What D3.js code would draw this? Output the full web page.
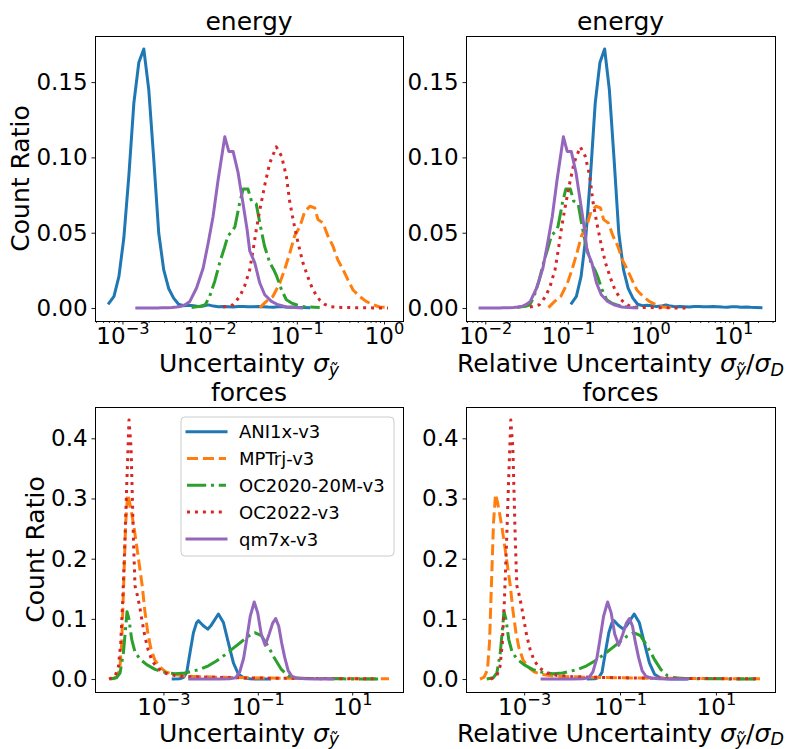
<!DOCTYPE html>
<html>
<head>
<meta charset="utf-8">
<script src="https://cdn.jsdelivr.net/npm/d3@7"></script>
<style>
  body { margin: 0; background: #fff; }
  svg text { font-family: "DejaVu Sans", sans-serif; fill: #000; }
</style>
</head>
<body>
<svg id="fig" width="791" height="749"></svg>
<script>
// ---- datasets and styling -------------------------------------------------
const datasets = ["ANI1x-v3", "MPTrj-v3", "OC2020-20M-v3", "OC2022-v3", "qm7x-v3"];
const colors = ["#1f77b4", "#ff7f0e", "#2ca02c", "#d62728", "#9467bd"];
const dashes = [null, "11.1,4.8", "19.2,4.8,3,4.8", "3,4.95", null];

// Histogram curves: [log10(sigma), count ratio]
// energy
const energyANI1x = [[-3.154,0.0033],[-3.097,0.0077],[-3.040,0.021],[-2.983,0.047],[-2.926,0.088],[-2.869,0.136],[-2.812,0.163],[-2.755,0.172],[-2.698,0.145],[-2.641,0.099],[-2.584,0.050],[-2.527,0.0255],[-2.470,0.013],[-2.413,0.0066],[-2.356,0.0025],[-2.299,0.0016],[-2.242,0.0019],[-2.185,0.0015],[-2.128,0.0011],[-2.071,0.0013],[-2.014,0.0021],[-1.957,0.0013],[-1.900,0.0009],[-1.843,0.0011],[-1.786,0.0009],[-1.729,0.0007],[-1.672,0.0011],[-1.615,0.0010],[-1.558,0.0008],[-1.501,0.0009],[-1.444,0.0011],[-1.387,0.0009],[-1.330,0.0007],[-1.273,0.0006],[-1.216,0.0009],[-1.159,0.0008],[-1.102,0.0006],[-1.045,0.0007],[-0.988,0.0005],[-0.931,0.0004],[-0.863,0.0003]];
const energyMPTrj = [[-1.425,0.0003],[-1.35,0.0044],[-1.275,0.0077],[-1.195,0.0166],[-1.14,0.0255],[-1.08,0.0366],[-1.025,0.048],[-0.965,0.054],[-0.91,0.064],[-0.85,0.0676],[-0.795,0.0665],[-0.757,0.0587],[-0.70,0.0565],[-0.645,0.048],[-0.585,0.041],[-0.53,0.032],[-0.47,0.0255],[-0.415,0.0188],[-0.355,0.012],[-0.28,0.0077],[-0.205,0.0044],[-0.125,0.0022],[-0.05,0.0007],[0.057,0.0003]];
const energyOC2020 = [[-2.207,0.0003],[-2.15,0.0008],[-2.10,0.0012],[-2.05,0.0022],[-2.00,0.0077],[-1.94,0.018],[-1.885,0.030],[-1.83,0.040],[-1.79,0.048],[-1.74,0.051],[-1.71,0.054],[-1.655,0.070],[-1.615,0.079],[-1.56,0.079],[-1.52,0.071],[-1.465,0.069],[-1.425,0.0565],[-1.37,0.041],[-1.31,0.030],[-1.265,0.0255],[-1.23,0.021],[-1.175,0.012],[-1.12,0.0055],[-1.06,0.0033],[-1.005,0.0022],[-0.93,0.001],[-0.87,0.0007],[-0.80,0.0005],[-0.738,0.0004]];
const energyOC2022 = [[-1.845,0.0007],[-1.79,0.0012],[-1.73,0.0022],[-1.655,0.0077],[-1.60,0.0144],[-1.54,0.0255],[-1.50,0.039],[-1.465,0.052],[-1.425,0.065],[-1.37,0.081],[-1.31,0.0964],[-1.235,0.107],[-1.175,0.1008],[-1.12,0.0875],[-1.08,0.070],[-1.035,0.0565],[-0.985,0.043],[-0.93,0.030],[-0.87,0.020],[-0.815,0.012],[-0.74,0.0055],[-0.68,0.0025],[-0.625,0.001],[-0.55,0.0006],[-0.49,0.0004],[-0.43,0.0003],[-0.37,0.0003],[-0.31,0.0002],[-0.25,0.0002],[-0.19,0.0002],[-0.13,0.0001],[-0.07,0.0001],[-0.01,0.0001],[0.045,0.0001]];
const energyQm7x = [[-2.835,0],[-2.78,0],[-2.72,0.0001],[-2.66,0],[-2.60,0.0001],[-2.55,0.0002],[-2.49,0.0002],[-2.43,0.0004],[-2.38,0.0007],[-2.32,0.0012],[-2.28,0.0022],[-2.227,0.0044],[-2.15,0.0133],[-2.074,0.0266],[-2.017,0.043],[-1.96,0.061],[-1.903,0.085],[-1.826,0.1137],[-1.78,0.104],[-1.731,0.104],[-1.674,0.090],[-1.616,0.069],[-1.57,0.052],[-1.54,0.038],[-1.482,0.030],[-1.425,0.0166],[-1.368,0.0088],[-1.291,0.0044],[-1.215,0.0022],[-1.119,0.0007],[-1.03,0.0003],[-0.945,0.0001]];

// forces
const forcesANI1x = [[-2.792,0],[-2.655,0.0005],[-2.570,0.003],[-2.506,0.011],[-2.436,0.044],[-2.364,0.077],[-2.30,0.093],[-2.258,0.097],[-2.16,0.089],[-2.061,0.083],[-2.00,0.088],[-1.941,0.095],[-1.835,0.108],[-1.729,0.094],[-1.623,0.060],[-1.517,0.027],[-1.411,0.008],[-1.297,0.002],[-1.169,0.0005],[-1.064,0.0002],[-0.95,0.0001],[-0.75,0]];
const forcesMPTrj = [[-4.08,0],[-3.996,0.003],[-3.926,0.015],[-3.883,0.06],[-3.841,0.16],[-3.799,0.26],[-3.757,0.307],[-3.714,0.293],[-3.672,0.275],[-3.619,0.250],[-3.555,0.215],[-3.502,0.185],[-3.449,0.155],[-3.396,0.115],[-3.333,0.078],[-3.269,0.052],[-3.184,0.032],[-3.078,0.020],[-2.951,0.012],[-2.803,0.008],[-2.549,0.005],[-2.231,0.004],[-1.807,0.003],[-1.172,0.002],[-0.536,0.0015],[0.099,0.001],[0.735,0.0008],[1.370,0.0005],[1.78,0.0003]];
const forcesOC2020 = [[-4.131,0],[-3.996,0.002],[-3.919,0.010],[-3.847,0.044],[-3.771,0.112],[-3.729,0.0995],[-3.672,0.066],[-3.602,0.045],[-3.496,0.033],[-3.354,0.024],[-3.178,0.016],[-2.966,0.011],[-2.754,0.009],[-2.549,0.010],[-2.400,0.0128],[-2.231,0.016],[-2.047,0.022],[-1.877,0.030],[-1.701,0.040],[-1.525,0.051],[-1.347,0.062],[-1.208,0.071],[-1.066,0.077],[-0.924,0.072],[-0.784,0.055],[-0.642,0.034],[-0.500,0.016],[-0.360,0.0055],[-0.218,0.002],[-0.006,0.001],[0.4,0.0005],[0.8,0.0003],[1.159,0.0002],[1.55,0.0001]];
const forcesOC2022 = [[-4.153,0],[-4.025,0.0045],[-3.953,0.021],[-3.905,0.06],[-3.862,0.13],[-3.820,0.22],[-3.778,0.32],[-3.729,0.4305],[-3.686,0.385],[-3.636,0.234],[-3.602,0.155],[-3.555,0.140],[-3.502,0.120],[-3.460,0.100],[-3.396,0.072],[-3.322,0.048],[-3.237,0.030],[-3.121,0.018],[-2.972,0.010],[-2.761,0.006],[-2.443,0.004],[-2.019,0.003],[-1.383,0.002],[-0.748,0.0015],[-0.114,0.001],[0.521,0.0008],[1.0,0.0005],[1.45,0.0003]];
const forcesQm7x = [[-2.443,0],[-2.231,0],[-2.019,0],[-1.807,0.0002],[-1.596,0.0005],[-1.468,0.002],[-1.383,0.012],[-1.299,0.035],[-1.235,0.066],[-1.161,0.104],[-1.076,0.128],[-1.002,0.110],[-0.928,0.075],[-0.843,0.056],[-0.758,0.075],[-0.684,0.093],[-0.621,0.1005],[-0.557,0.088],[-0.494,0.060],[-0.430,0.036],[-0.356,0.014],[-0.282,0.005],[-0.176,0.0017],[-0.007,0.0004],[0.206,0.0001],[0.587,0]];

// log10 of the dataset scale sigma_D, per dataset (same order as datasets)
const energyLogSigmaD = [-2.2, -0.19, -0.59, -0.385, -0.772];
const forcesLogSigmaD = [-1.13, -0.16, -0.35, -0.45, 0.183];

// ticks
const energyYTicks = [0, 0.05, 0.10, 0.15];
const forcesYTicks = [0, 0.1, 0.2, 0.3, 0.4];
const energyAbsXTickExp = [-3, -2, -1, 0];
const energyRelXTickExp = [-2, -1, 0, 1];
const forcesXTickExp = [-3, -1, 1];

const energyCurves = [energyANI1x, energyMPTrj, energyOC2020, energyOC2022, energyQm7x];
const forcesCurves = [forcesANI1x, forcesMPTrj, forcesOC2020, forcesOC2022, forcesQm7x];

// ---- drawing ---------------------------------------------------------------
const svg = d3.select("#fig");
const TICK_FS = 23, SUP_FS = 16.2, LABEL_FS = 25, SUB_FS = 17.5;

function appendXLabel(g, cx, y, relative) {
  const t = g.append("text").attr("x", cx).attr("y", y)
    .attr("text-anchor", "middle").attr("font-size", LABEL_FS);
  t.append("tspan").text(relative ? "Relative Uncertainty " : "Uncertainty ");
  t.append("tspan").attr("font-style", "italic").text("\u03C3");
  t.append("tspan").attr("font-style", "italic").attr("font-size", SUB_FS)
    .attr("dy", 3.5).text("\u1EF9");
  if (relative) {
    t.append("tspan").attr("dy", -3.5).text("/");
    t.append("tspan").attr("font-style", "italic").text("\u03C3");
    t.append("tspan").attr("font-style", "italic").attr("font-size", SUB_FS)
      .attr("dy", 3.5).text("D");
  }
}

function panel(opts) {
  const { box, curves, logShift, yTicks, yFmt, xTickExp, minor, title, relative, ylabel, xlabelGap } = opts;
  const g = svg.append("g");
  const pts = curves.map((c, i) => c.map(d => [d[0] - (logShift ? logShift[i] : 0), d[1]]));

  const lx = d3.extent(pts.flat(), d => d[0]);
  const lpad = 0.05 * (lx[1] - lx[0]);
  const x = d3.scaleLog()
    .domain([Math.pow(10, lx[0] - lpad), Math.pow(10, lx[1] + lpad)])
    .range([box.x, box.x + box.w]);
  const ymax = d3.max(pts.flat(), d => d[1]);
  const ypad = 0.05 * ymax;
  const y = d3.scaleLinear().domain([-ypad, ymax + ypad]).range([box.y + box.h, box.y]);

  // curves
  const line = d3.line().x(d => x(Math.pow(10, d[0]))).y(d => y(d[1]));
  pts.forEach((p, i) => {
    g.append("path").attr("d", line(p))
      .attr("fill", "none").attr("stroke", colors[i]).attr("stroke-width", 3)
      .attr("stroke-linejoin", "round")
      .attr("stroke-linecap", dashes[i] ? "butt" : "square")
      .attr("stroke-dasharray", dashes[i]);
  });

  // minor ticks on log axis
  if (minor) {
    const [d0, d1] = x.domain();
    const mv = [];
    for (let e = Math.floor(Math.log10(d0)); e <= Math.ceil(Math.log10(d1)); e++) {
      for (let k = 2; k <= 9; k++) {
        const v = k * Math.pow(10, e);
        if (v >= d0 && v <= d1) mv.push(v);
      }
    }
    g.append("g").attr("transform", `translate(0,${box.y + box.h})`)
      .call(d3.axisBottom(x).tickValues(mv).tickSize(2).tickFormat(""))
      .call(s => s.select(".domain").remove())
      .selectAll("line").attr("stroke-width", 0.8);
  }

  // major x ticks with power-of-ten labels
  const xa = g.append("g").attr("transform", `translate(0,${box.y + box.h})`)
    .call(d3.axisBottom(x).tickValues(xTickExp.map(e => Math.pow(10, e))).tickSize(3.5))
    .attr("font-family", null).attr("font-size", TICK_FS);
  xa.select(".domain").remove();
  xa.selectAll("line").attr("stroke-width", 0.9);
  xa.selectAll(".tick text").each(function (d) {
    const t = d3.select(this).text(null).attr("y", 22.5).attr("dy", null);
    const e = Math.round(Math.log10(d));
    t.append("tspan").text("10");
    t.append("tspan").attr("font-size", SUP_FS).attr("dy", -9.3)
      .text(e < 0 ? "\u2212" + (-e) : String(e));
  });

  // y ticks
  const ya = g.append("g").attr("transform", `translate(${box.x},0)`)
    .call(d3.axisLeft(y).tickValues(yTicks).tickSize(3.5).tickPadding(3.9).tickFormat(d3.format(yFmt)))
    .attr("font-family", null).attr("font-size", TICK_FS);
  ya.select(".domain").remove();
  ya.selectAll("line").attr("stroke-width", 0.9);

  // frame
  g.append("rect").attr("x", box.x).attr("y", box.y).attr("width", box.w).attr("height", box.h)
    .attr("fill", "none").attr("stroke", "#000").attr("stroke-width", 1)
    .attr("shape-rendering", "crispEdges");

  // title
  g.append("text").attr("x", box.x + box.w / 2).attr("y", box.y - 6)
    .attr("text-anchor", "middle").attr("font-size", LABEL_FS).text(title);

  // x label
  appendXLabel(g, box.x + box.w / 2, box.y + box.h + xlabelGap, relative);

  // y label, placed just left of the tick labels
  if (ylabel) {
    const bb = ya.node().getBBox();
    const xb = box.x + bb.x - 7;
    g.append("text")
      .attr("transform", `translate(${xb},${box.y + box.h / 2}) rotate(-90)`)
      .attr("text-anchor", "middle").attr("font-size", LABEL_FS).text(ylabel);
  }
  return { g, x, y };
}

panel({ box: { x: 95, y: 36, w: 308, h: 285 }, curves: energyCurves, logShift: null,
  yTicks: energyYTicks, yFmt: ".2f", xTickExp: energyAbsXTickExp, minor: true,
  title: "energy", relative: false, ylabel: "Count Ratio", xlabelGap: 51 });
panel({ box: { x: 466, y: 36, w: 309, h: 285 }, curves: energyCurves, logShift: energyLogSigmaD,
  yTicks: energyYTicks, yFmt: ".2f", xTickExp: energyRelXTickExp, minor: true,
  title: "energy", relative: true, ylabel: null, xlabelGap: 51 });
const bl = panel({ box: { x: 95, y: 407, w: 308, h: 285 }, curves: forcesCurves, logShift: null,
  yTicks: forcesYTicks, yFmt: ".1f", xTickExp: forcesXTickExp, minor: false,
  title: "forces", relative: false, ylabel: "Count Ratio", xlabelGap: 49.5 });
panel({ box: { x: 466, y: 407, w: 309, h: 285 }, curves: forcesCurves, logShift: forcesLogSigmaD,
  yTicks: forcesYTicks, yFmt: ".1f", xTickExp: forcesXTickExp, minor: false,
  title: "forces", relative: true, ylabel: null, xlabelGap: 49.5 });

// legend (upper right of the forces / absolute panel)
const lg = bl.g.append("g").attr("transform", "translate(181,417)");
lg.append("rect").attr("width", 213).attr("height", 139).attr("rx", 4)
  .attr("fill", "#fff").attr("fill-opacity", 0.8)
  .attr("stroke", "#cccccc").attr("stroke-width", 1);
datasets.forEach((name, i) => {
  const cy = 14.7 + i * 26.8;
  lg.append("line").attr("x1", 6).attr("x2", 45).attr("y1", cy).attr("y2", cy)
    .attr("stroke", colors[i]).attr("stroke-width", 3)
    .attr("stroke-linecap", dashes[i] ? "butt" : "square")
    .attr("stroke-dasharray", dashes[i]);
  lg.append("text").attr("x", 58).attr("y", cy + 6.6).attr("font-size", 18).text(name);
});
</script>
</body>
</html>
